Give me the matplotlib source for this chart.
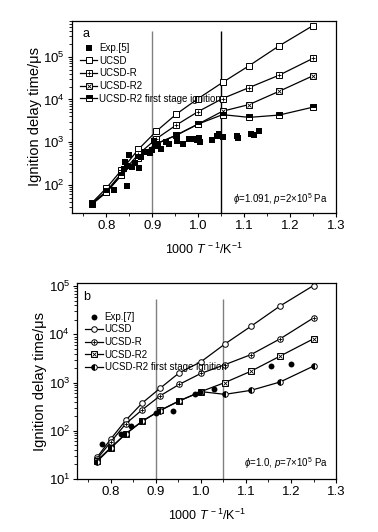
import numpy as np
import matplotlib
matplotlib.use('Agg')
import matplotlib.pyplot as plt

plt.rcParams['font.family'] = ['Liberation Sans', 'DejaVu Sans']
plt.rcParams['mathtext.fontset'] = 'custom'
plt.rcParams['mathtext.rm'] = 'Liberation Sans'
plt.rcParams['mathtext.it'] = 'Liberation Sans:italic'
plt.rcParams['mathtext.bf'] = 'Liberation Sans:bold'

# 1000/T para T = 1300 ... 800 K
x_sim = [0.769, 0.8, 0.833, 0.87, 0.909, 0.952, 1.0, 1.053, 1.111, 1.176, 1.25]

# Painel a: phi=1.091, p=2x10^5 Pa
a_ucsd = [38, 83, 220, 680, 1800, 4500, 10500, 25000, 62000, 180000, 540000]
a_ucsd_r = [37, 70, 185, 520, 1200, 2500, 5200, 10500, 19000, 37000, 92000]
a_ucsd_r2 = [36, 67, 170, 440, 920, 1450, 2650, 5300, 7600, 15500, 36000]
a_first = [35, 66, 168, 435, 910, 1440, 2650, 4400, 3800, 4300, 6600]
a_exp_x = [0.769, 0.816, 0.845, 0.838, 0.841, 0.849, 0.846, 0.855, 0.863, 0.871,
           0.876, 0.885, 0.896, 0.899, 0.903, 0.905, 0.908, 0.912, 0.918, 0.929,
           0.936, 0.954, 0.954, 0.967, 0.98, 0.991, 0.998, 1.001, 1.004, 1.031,
           1.042, 1.045, 1.055, 1.085, 1.086, 1.114, 1.122, 1.133]
a_exp_y = [35, 74, 96, 240, 345, 490, 280, 260, 316, 250,
           450, 600, 560, 650, 1050, 850, 900, 800, 700, 1000,
           910, 1200, 1070, 910, 1200, 1200, 1100, 1260, 1000, 1100,
           1420, 1550, 1350, 1420, 1250, 1550, 1500, 1780]

# Painel b: phi=1.0, p=7x10^5 Pa
b_ucsd = [28, 68, 165, 380, 760, 1600, 2700, 6300, 14700, 39000, 103000]
b_ucsd_r = [26, 59, 140, 275, 530, 920, 1550, 2350, 3800, 8100, 22000]
b_ucsd_r2 = [24, 45, 87, 160, 265, 420, 650, 1000, 1720, 3550, 8100]
b_first = [23, 44, 86, 158, 262, 415, 650, 570, 690, 1030, 2200]
b_exp_x = [0.781, 0.822, 0.844, 0.9, 0.937, 0.986, 0.997, 1.028, 1.156, 1.201]
b_exp_y = [52, 87, 125, 235, 258, 590, 650, 720, 2200, 2400]

fig = plt.figure(figsize=(3.78, 5.32), dpi=100)
ax_a = fig.add_axes([0.190, 0.600, 0.699, 0.361])
ax_b = fig.add_axes([0.204, 0.0996, 0.685, 0.368])

ms = 4
lw = 0.9


def estilo(ax, ylim):
    ax.set_yscale('log')
    ax.set_xlim(0.725, 1.3)
    ax.set_ylim(*ylim)
    ax.set_xticks([0.8, 0.9, 1.0, 1.1, 1.2, 1.3])
    ax.set_xticks(np.arange(0.75, 1.3, 0.1), minor=True)
    ax.tick_params(which='both', direction='out', top=False, right=False, labelsize=9.5, pad=2)
    ax.tick_params(which='major', length=3, width=0.8)
    ax.tick_params(which='minor', length=2, width=0.6)
    for s in ax.spines.values():
        s.set_linewidth(0.9)
    ax.set_ylabel('Ignition delay time/μs', fontsize=10.5, labelpad=1)
    ax.set_xlabel('1000 $T^{\\,-1}$/K$^{-1}$', fontsize=9, labelpad=7)


def serie(ax, x, y, marker, face, over=None, fill='full'):
    l, = ax.plot(x, y, color='black', lw=lw, marker=marker, ms=ms, mfc=face,
                 mec='black', mew=0.7, fillstyle=fill, markerfacecoloralt='white')
    if over is not None:
        o, = ax.plot(x, y, ls='none', marker=over, ms=ms - 1, mec='black', mew=0.6)
        return (l, o)
    return l


# ---- painel a ----
estilo(ax_a, (22, 7e5))
ax_a.vlines(0.9, 22, 4e5, color='gray', lw=1.0)
ax_a.vlines(1.05, 22, 4e5, color='black', lw=1.0)
h_exp = ax_a.scatter(a_exp_x, a_exp_y, marker='s', s=18, color='black', zorder=3, linewidths=0)
h1 = serie(ax_a, x_sim, a_ucsd, 's', 'white')
h2 = serie(ax_a, x_sim, a_ucsd_r, 's', 'white', '+')
h3 = serie(ax_a, x_sim, a_ucsd_r2, 's', 'white', 'x')
h4 = serie(ax_a, x_sim, a_first, 's', 'black', fill='top')
ax_a.legend([h_exp, h1, h2, h3, h4],
            ['Exp.[5]', 'UCSD', 'UCSD-R', 'UCSD-R2', 'UCSD-R2 first stage ignition'],
            loc='upper left', bbox_to_anchor=(0.005, 0.92), frameon=False, fontsize=7,
            handlelength=1.8, handletextpad=0.2, labelspacing=0.28, borderpad=0.2)
ax_a.text(0.04, 0.96, 'a', transform=ax_a.transAxes, fontsize=9, va='top')
ax_a.text(0.97, 0.03, '$\\phi$=1.091, $p$=2$\\times$10$^5$ Pa', transform=ax_a.transAxes,
          fontsize=7, ha='right', va='bottom')

# ---- painel b ----
estilo(ax_b, (10, 1.15e5))
ax_b.vlines([0.9, 1.05], 10, 5.5e4, color='gray', lw=1.0)
hb_exp = ax_b.scatter(b_exp_x, b_exp_y, marker='o', s=18, color='black', zorder=3, linewidths=0)
g1 = serie(ax_b, x_sim, b_ucsd, 'o', 'white')
g2 = serie(ax_b, x_sim, b_ucsd_r, 'o', 'white', '+')
g3 = serie(ax_b, x_sim, b_ucsd_r2, 's', 'white', 'x')
g4 = serie(ax_b, x_sim, b_first, 'o', 'black', fill='left')
ax_b.legend([hb_exp, g1, g2, g3, g4],
            ['Exp.[7]', 'UCSD', 'UCSD-R', 'UCSD-R2', 'UCSD-R2 first stage ignition'],
            loc='upper left', bbox_to_anchor=(0.005, 0.89), frameon=False, fontsize=7,
            handlelength=1.8, handletextpad=0.2, labelspacing=0.28, borderpad=0.2)
ax_b.text(0.025, 0.96, 'b', transform=ax_b.transAxes, fontsize=9, va='top')
ax_b.text(0.97, 0.04, '$\\phi$=1.0, $p$=7$\\times$10$^5$ Pa', transform=ax_b.transAxes,
          fontsize=7, ha='right', va='bottom')

fig.savefig('out.png', dpi=100)
